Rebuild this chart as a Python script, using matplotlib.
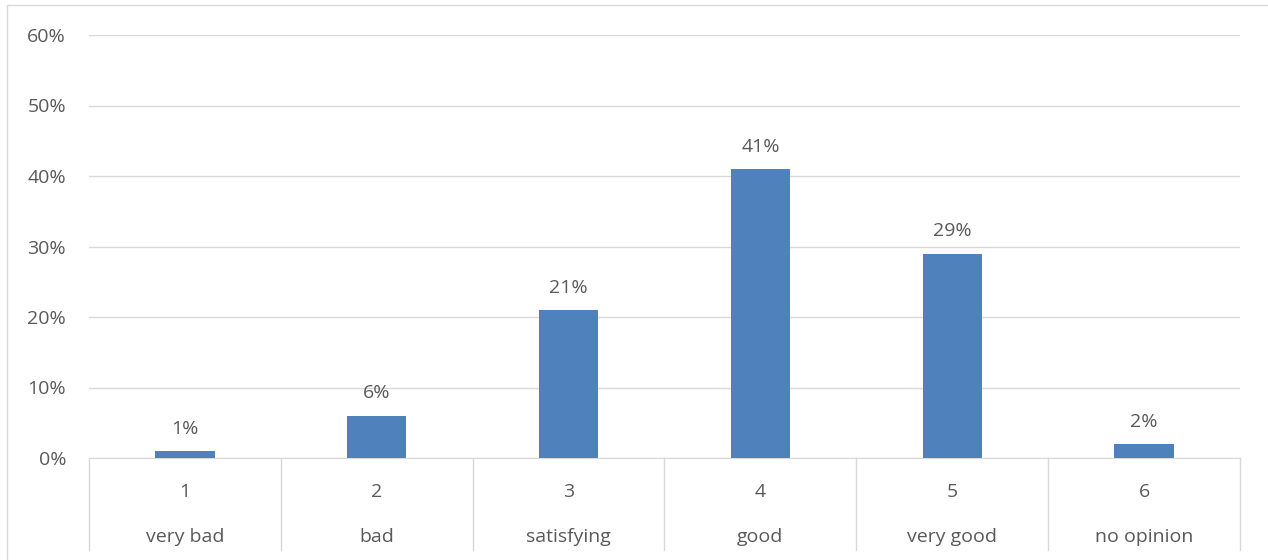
import numpy as np
import matplotlib.pyplot as plt
from matplotlib.patches import Rectangle

codes = ["1", "2", "3", "4", "5", "6"]
labels = ["very bad", "bad", "satisfying", "good", "very good", "no opinion"]
shares = [1, 6, 21, 41, 29, 2]

bar_color = "#4F81BD"
text_color = "#595959"
grid_color = "#D9D9D9"

plt.rcParams['font.family'] = ['Open Sans', 'DejaVu Sans']
fs = 14

fig = plt.figure(figsize=(12.68, 5.6), dpi=100)
ax = fig.add_axes([89 / 1268, 102 / 560, (1240 - 89) / 1268, 423 / 560])

x = np.arange(len(shares))
ax.bar(x, shares, width=0.31, color=bar_color, zorder=3)
for xi, v in zip(x, shares):
    ax.text(xi, v + 1.9, f"{v}%", ha="center", va="bottom", fontsize=fs, color=text_color)

ax.set_xlim(-0.5, len(shares) - 0.5)
ax.set_ylim(0, 60)
ax.set_yticks(range(0, 61, 10))
ax.set_yticklabels([f"{t}%" for t in range(0, 61, 10)])
ax.yaxis.grid(True, color=grid_color, linewidth=1, zorder=0)
ax.tick_params(axis="y", length=0, pad=16.5, labelsize=fs, labelcolor=text_color)
ax.set_xticks([])
for s in ["top", "right", "left"]:
    ax.spines[s].set_visible(False)
ax.spines["bottom"].set_color(grid_color)

# category table below the axis
depth = (550 - 458) / 423
for b in np.arange(-0.5, len(shares), 1.0):
    ax.plot([b, b], [0, -depth], transform=ax.get_xaxis_transform(), color=grid_color,
            linewidth=1, clip_on=False)
for xi, c, l in zip(x, codes, labels):
    ax.text(xi, -(492 - 458) / 423, c, transform=ax.get_xaxis_transform(), ha="center",
            va="center", fontsize=fs, color=text_color)
    ax.text(xi, -(537 - 458) / 423, l, transform=ax.get_xaxis_transform(), ha="center",
            va="center", fontsize=fs, color=text_color)

# chart border
fig.patches.append(Rectangle((6.5 / 1268, -0.01), 1.02, 1 - 4.5 / 560 + 0.01, transform=fig.transFigure,
                             fill=False, edgecolor=grid_color, linewidth=1))

fig.savefig("out.png", dpi=100)
